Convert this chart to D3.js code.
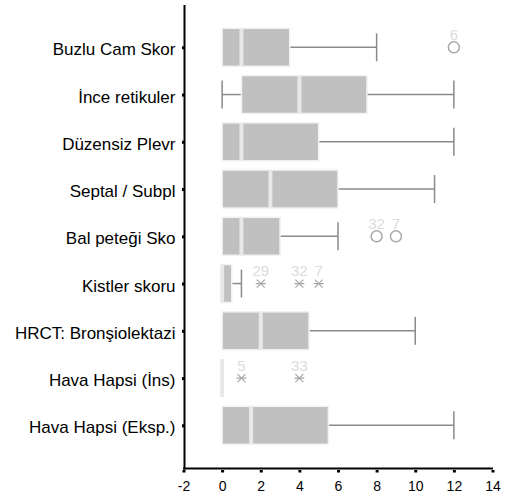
<!DOCTYPE html>
<html>
<head>
<meta charset="utf-8">
<script src="https://cdn.jsdelivr.net/npm/d3@7"></script>
<style>
  body { margin: 0; background: #fff; }
  svg { display: block; font-family: Arial, "Liberation Sans", sans-serif; }
</style>
</head>
<body>
<svg id="chart" width="508" height="501"></svg>
<script>
// box plot values
var categories = ["Buzlu Cam Skor", "İnce retikuler", "Düzensiz Plevr", "Septal / Subpl",
    "Bal peteği Sko", "Kistler skoru", "HRCT: Bronşiolektazi", "Hava Hapsi (İns)", "Hava Hapsi (Eksp.)"];
var whiskerLow = [0, 0, 0, 0, 0, 0, 0, 0, 0];
var q1 = [0, 1, 0, 0, 0, 0, 0, 0, 0];
var median = [1, 4, 1, 2.5, 1, 0, 2, 0, 1.5];
var q3 = [3.5, 7.5, 5, 6, 3, 0.5, 4.5, 0, 5.5];
var whiskerHigh = [8, 12, 12, 11, 6, 1, 10, 0, 12];
// outliers: category index, value, case label, kind
var outlierCat = [0, 4, 4, 5, 5, 5, 7, 7];
var outlierVal = [12, 8, 9, 2, 4, 5, 1, 4];
var outlierLabel = ["6", "32", "7", "29", "32", "7", "5", "33"];
var outlierKind = ["o", "o", "o", "*", "*", "*", "*", "*"];
var xTicks = [-2, 0, 2, 4, 6, 8, 10, 12, 14];

var svg = d3.select("#chart");

var x = d3.scaleLinear().domain([-2, 14]).range([183.5, 492.5]);
var y = d3.scalePoint().domain(categories).range([47.3, 425.3]);
var boxH = 38, capH = 28;

// boxes
var g = svg.append("g");
categories.forEach(function (c, i) {
    var cy = y(c);
    // whiskers
    if (whiskerHigh[i] > q3[i]) {
        g.append("line").attr("x1", x(q3[i])).attr("x2", x(whiskerHigh[i]))
            .attr("y1", cy).attr("y2", cy).attr("stroke", "#8a8a8a").attr("stroke-width", 1.5);
        g.append("line").attr("x1", x(whiskerHigh[i])).attr("x2", x(whiskerHigh[i]))
            .attr("y1", cy - capH / 2).attr("y2", cy + capH / 2).attr("stroke", "#8a8a8a").attr("stroke-width", 1.5);
    }
    if (whiskerLow[i] < q1[i]) {
        g.append("line").attr("x1", x(whiskerLow[i])).attr("x2", x(q1[i]))
            .attr("y1", cy).attr("y2", cy).attr("stroke", "#8a8a8a").attr("stroke-width", 1.5);
        g.append("line").attr("x1", x(whiskerLow[i])).attr("x2", x(whiskerLow[i]))
            .attr("y1", cy - capH / 2).attr("y2", cy + capH / 2).attr("stroke", "#8a8a8a").attr("stroke-width", 1.5);
    }
    if (q3[i] > q1[i]) {
        g.append("rect").attr("x", x(q1[i])).attr("y", cy - boxH / 2)
            .attr("width", x(q3[i]) - x(q1[i])).attr("height", boxH)
            .attr("fill", "#c0c0c0").attr("stroke", "#f2f2f2").attr("stroke-width", 1.5);
    }
    g.append("line").attr("x1", x(median[i])).attr("x2", x(median[i]))
        .attr("y1", cy - boxH / 2).attr("y2", cy + boxH / 2)
        .attr("stroke", "#e8e8e8").attr("stroke-width", 4);
});

// outliers
outlierCat.forEach(function (ci, k) {
    var cx = x(outlierVal[k]), cy = y(categories[ci]);
    if (outlierKind[k] === "o") {
        g.append("circle").attr("cx", cx).attr("cy", cy).attr("r", 5.5)
            .attr("fill", "none").attr("stroke", "#a8a8a8").attr("stroke-width", 1.5);
    } else {
        var s = 5;
        g.append("path")
            .attr("d", "M" + (cx - s) + "," + cy + "H" + (cx + s) +
                "M" + (cx - s * 0.8) + "," + (cy - s * 0.8) + "L" + (cx + s * 0.8) + "," + (cy + s * 0.8) +
                "M" + (cx - s * 0.8) + "," + (cy + s * 0.8) + "L" + (cx + s * 0.8) + "," + (cy - s * 0.8))
            .attr("stroke", "#a8a8a8").attr("stroke-width", 1.2).attr("fill", "none");
    }
    g.append("text").attr("x", cx).attr("y", cy - 7.5).attr("text-anchor", "middle")
        .attr("font-size", 15).attr("fill", "#dcdcdc").text(outlierLabel[k]);
});

// x axis (plain hyphen for negatives, like the original)
var xAxis = svg.append("g").attr("transform", "translate(0,468)")
    .call(d3.axisBottom(x).tickValues(xTicks).tickSize(0).tickPadding(13)
        .tickFormat(function (d) { return String(d); }));
xAxis.select(".domain").remove();
xAxis.selectAll(".tick text").attr("font-size", 14).attr("fill", "#000")
    .attr("font-family", "Arial, 'Liberation Sans', sans-serif");
xAxis.selectAll(".tick").append("rect").attr("x", -1.5).attr("y", 2).attr("width", 3).attr("height", 2.5).attr("fill", "#000");
svg.append("line").attr("x1", 183).attr("x2", 493).attr("y1", 468.5).attr("y2", 468.5)
    .attr("stroke", "#000").attr("stroke-width", 2);

// y axis
var yAxis = svg.append("g").attr("transform", "translate(184.5,0)")
    .call(d3.axisLeft(y).tickSize(0).tickPadding(9));
yAxis.select(".domain").remove();
yAxis.selectAll(".tick text").attr("font-size", 17).attr("fill", "#000").attr("dy", "0.45em")
    .attr("font-family", "Arial, 'Liberation Sans', sans-serif");
yAxis.selectAll(".tick").append("rect").attr("x", -2.5).attr("y", -1.5).attr("width", 2.5).attr("height", 3).attr("fill", "#000");
svg.append("line").attr("x1", 184.5).attr("x2", 184.5).attr("y1", 5).attr("y2", 469.5)
    .attr("stroke", "#000").attr("stroke-width", 2);
</script>
</body>
</html>
